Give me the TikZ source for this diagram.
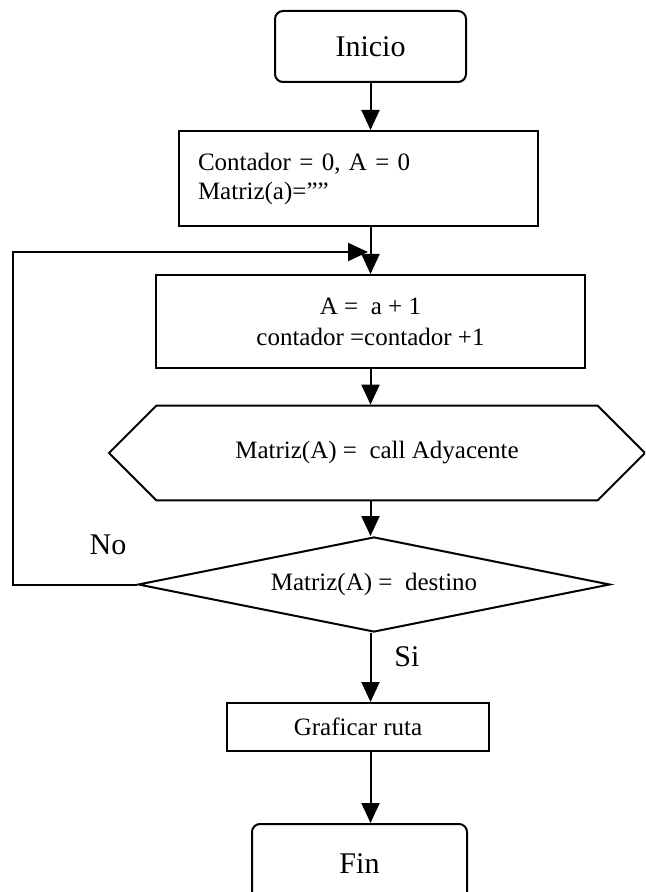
\documentclass[tikz,border=0pt]{standalone}
\usepackage{fontspec}
\setmainfont{Liberation Serif}
\usetikzlibrary{arrows.meta,shapes.geometric,shapes.misc}
\begin{document}
\begin{tikzpicture}[x = 0.5pt, y = -0.5pt, line width = 1pt,
        caja/.style = {draw, inner sep = 0pt, font = \fontsize{12.5}{15.5}\selectfont, align = center},
        flecha/.style = {-{Triangle[length = 10pt, width = 9pt]}}]
            \useasboundingbox (0,0) rectangle (645,892);
            \clip (0,0) rectangle (645,892);
            \node[caja, rounded corners = 4pt, minimum width = 95.5pt, minimum height = 35.5pt, font = \fontsize{15}{18}\selectfont] (ini) at (370.5,46.5) {Inicio};
            \node[caja, minimum width = 179.5pt, minimum height = 47.5pt, inner xsep = 9.5pt, text width = 160.5pt, align = left, font = \fontsize{12.5}{14.5}\selectfont] (cont) at (358.5,178.5) {Contador = 0, A = 0\\Matriz(a)=””};
            \node[caja, minimum width = 214.5pt, minimum height = 46.5pt] (incr) at (370.5,321.5) {A = \ a + 1\\contador =contador +1};
            \node[caja, chamfered rectangle, chamfered rectangle xsep = 51pt, chamfered rectangle ysep = 18pt, minimum width = 268pt, minimum height = 36pt] (ady) at (377,453) {Matriz(A) = \ call Adyacente};
            \node[caja, diamond, aspect = 5, minimum width = 236pt, minimum height = 47.5pt] (dest) at (374,584.5) {Matriz(A) = \ destino};
            \node[caja, minimum width = 131pt, minimum height = 24pt] (graf) at (358,727) {Graficar ruta};
            \node[caja, rounded corners = 4pt, minimum width = 107.5pt, minimum height = 40pt, font = \fontsize{15}{18}\selectfont] (fin) at (359.5,864) {Fin};
            \begin{scope}[every node/.append style = {font = \fontsize{15}{18}\selectfont}]
                \node (no) at (108,545) {No};
                \node (si) at (407,657) {Si};
            \end{scope}
            \coordinate (esq) at (13,252);
            \coordinate (junta) at (368,252);
            \draw[flecha] (ini) -- (cont.north -| ini);
            \draw[flecha] (cont.south -| ini) -- (incr.north -| ini);
            \draw[flecha] (incr.south -| ini) -- (ady.north -| ini);
            \draw[flecha] (ady.south -| ini) -- (dest.north -| ini);
            \draw[flecha] (dest.south -| ini) -- (graf.north -| ini);
            \draw[flecha] (graf.south -| ini) -- (fin.north -| ini);
            \draw[flecha] (dest.west) -| (esq) -- (junta);
        \end{tikzpicture}
\end{document}
